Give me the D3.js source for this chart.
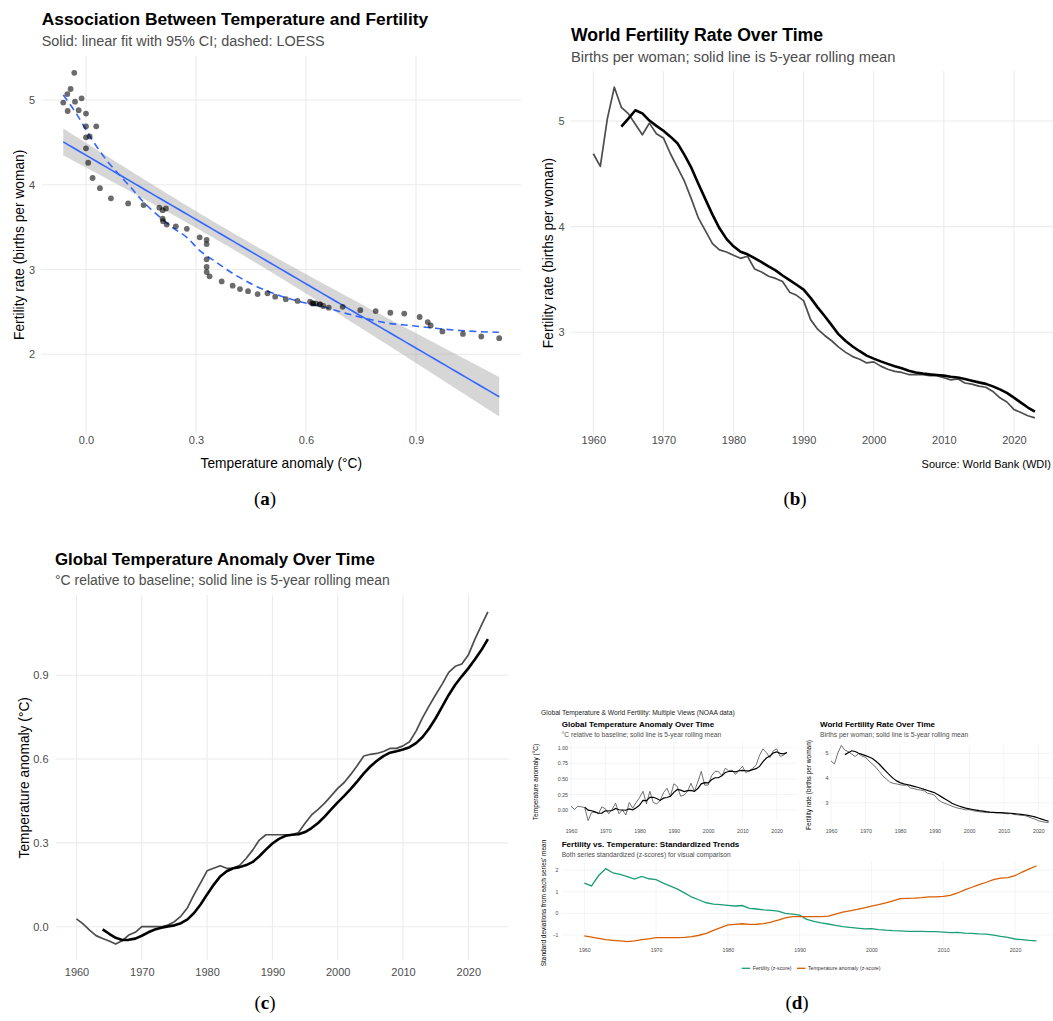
<!DOCTYPE html>
<html><head><meta charset="utf-8">
<script src="https://cdn.jsdelivr.net/npm/d3@7"></script>
<style>
body{margin:0;background:#fff;}
svg{display:block;}
</style></head><body>
<svg id="c" width="1053" height="1021"></svg>
<script>
// ---------------- DATA ----------------
const years = [1960,1961,1962,1963,1964,1965,1966,1967,1968,1969,
  1970,1971,1972,1973,1974,1975,1976,1977,1978,1979,
  1980,1981,1982,1983,1984,1985,1986,1987,1988,1989,
  1990,1991,1992,1993,1994,1995,1996,1997,1998,1999,
  2000,2001,2002,2003,2004,2005,2006,2007,2008,2009,
  2010,2011,2012,2013,2014,2015,2016,2017,2018,2019,
  2020,2021,2022,2023];
// World fertility rate (births per woman)
const fertility = [4.69,4.57,5.02,5.32,5.13,5.07,4.97,4.87,4.98,4.88,
  4.84,4.69,4.56,4.43,4.26,4.08,3.96,3.84,3.78,3.76,
  3.73,3.70,3.72,3.60,3.57,3.53,3.51,3.48,3.38,3.35,
  3.30,3.12,3.03,2.97,2.92,2.86,2.81,2.77,2.745,2.71,
  2.72,2.68,2.65,2.63,2.62,2.60,2.60,2.60,2.59,2.59,
  2.57,2.55,2.56,2.52,2.51,2.49,2.48,2.44,2.38,2.34,
  2.27,2.24,2.21,2.19];
// Temperature anomaly (°C) used in panels a, c and the z-score view
const temperature = [0.028,0.010,-0.012,-0.032,-0.042,-0.051,-0.062,-0.050,-0.030,-0.020,
  0.000,0.000,0.000,0.000,0.006,0.018,0.038,0.068,0.115,0.157,
  0.200,0.209,0.218,0.209,0.210,0.220,0.245,0.275,0.310,0.329,
  0.329,0.329,0.329,0.329,0.337,0.370,0.400,0.420,0.442,0.468,
  0.495,0.516,0.545,0.577,0.611,0.617,0.620,0.627,0.638,0.638,
  0.647,0.662,0.700,0.748,0.790,0.830,0.868,0.910,0.932,0.940,
  0.972,1.028,1.078,1.127];
// NOAA annual anomaly shown in the small panel of (d)
const noaaAnomaly = [0.06,0.01,0.06,0.05,0.04,-0.17,-0.04,-0.03,-0.06,0.05,
  0.02,-0.06,0.01,0.11,-0.06,0.00,-0.08,0.12,0.03,0.12,
  0.20,0.30,0.10,0.30,0.12,0.10,0.15,0.28,0.35,0.22,
  0.42,0.38,0.22,0.24,0.30,0.43,0.30,0.45,0.62,0.40,
  0.40,0.55,0.62,0.62,0.55,0.67,0.63,0.64,0.57,0.64,
  0.70,0.60,0.63,0.67,0.72,0.88,0.98,0.92,0.84,0.95,
  0.98,0.86,0.88,0.93];
// LOESS curve: temperature, fertility
const loessTemp = [-0.062,-0.025,0.011,0.056,0.088,0.12,0.156,0.193,0.238,0.275,0.311,0.347,0.402,0.456,0.52,0.584,0.647,0.711,0.766,0.82,0.884,0.947,1.02,1.126];
const loessFert = [5.06,4.83,4.57,4.29,4.13,3.98,3.80,3.65,3.49,3.38,3.22,3.11,2.95,2.82,2.705,2.62,2.56,2.48,2.42,2.37,2.34,2.31,2.28,2.26];

// tick values
const tempTicksA = [0, 0.3, 0.6, 0.9];
const fertTicks = [2, 3, 4, 5];
const fertTicksB = [3, 4, 5];
const yearTicks = [1960, 1970, 1980, 1990, 2000, 2010, 2020];
const tempTicksC = [0, 0.3, 0.6, 0.9];
const tempTicksMini = [0, 0.25, 0.5, 0.75, 1.0];
const zTicks = [-1, 0, 1, 2];

// ---------------- HELPERS ----------------
const FONT = '"Liberation Sans", Arial, Helvetica, sans-serif';
const GRID = '#EBEBEB', TICK = '#4D4D4D', SUB = '#4D4D4D';
const svg = d3.select('#c').attr('font-family', FONT);

function rolling(v, k) { return v.map((d, i) => i < k - 1 ? null : d3.mean(v.slice(i - k + 1, i + 1))); }
function zscore(v) { const m = d3.mean(v), s = d3.deviation(v); return v.map(d => (d - m) / s); }

function grid(g, x, y, xt, yt, b, w) {
  g.append('g').selectAll('line').data(yt).join('line')
    .attr('x1', b.x0).attr('x2', b.x1).attr('y1', d => y(d)).attr('y2', d => y(d))
    .attr('stroke', GRID).attr('stroke-width', w);
  g.append('g').selectAll('line').data(xt).join('line')
    .attr('y1', b.y0).attr('y2', b.y1).attr('x1', d => x(d)).attr('x2', d => x(d))
    .attr('stroke', GRID).attr('stroke-width', w);
}
function axes(g, x, y, xt, yt, o) {
  const ax = g.append('g').attr('transform', `translate(0,${o.xTop})`)
    .call(d3.axisBottom(x).tickValues(xt).tickSize(0).tickPadding(0).tickFormat(o.fx));
  ax.attr('font-size', o.fs).attr('font-family', FONT);
  ax.select('.domain').remove();
  ax.selectAll('text').attr('fill', TICK);
  const ay = g.append('g').attr('transform', `translate(${o.yRight},0)`)
    .call(d3.axisLeft(y).tickValues(yt).tickSize(0).tickPadding(0).tickFormat(o.fy));
  ay.attr('font-size', o.fs).attr('font-family', FONT);
  ay.select('.domain').remove();
  ay.selectAll('text').attr('fill', TICK);
}
function fitText(sel, w) {
  const l = sel.node().getComputedTextLength();
  const fs = parseFloat(sel.attr('font-size'));
  sel.attr('font-size', fs * w / l);
}
function title(g, txt, x, y, fs, w, bold, color) {
  const t = g.append('text').attr('x', x).attr('y', y).attr('font-size', fs)
    .attr('font-weight', bold ? 'bold' : 'normal').attr('fill', color || '#000').text(txt);
  if (w) fitText(t, w);
  return t;
}
function yTitle(g, txt, cx, cy, fs) {
  g.append('text').attr('transform', `translate(${cx},${cy}) rotate(-90)`)
    .attr('text-anchor', 'middle').attr('dy', '0.35em').attr('font-size', fs).attr('fill', '#000').text(txt);
}
function xTitle(g, txt, cx, y, fs) {
  g.append('text').attr('x', cx).attr('y', y).attr('text-anchor', 'middle').attr('font-size', fs).attr('fill', '#000').text(txt);
}
function caption(letter, cx, y) {
  const t = svg.append('text').attr('x', cx).attr('y', y).attr('text-anchor', 'middle')
    .attr('font-family', '"Liberation Serif", "DejaVu Serif", serif').attr('font-size', 19).attr('fill', '#000');
  t.append('tspan').text('(');
  t.append('tspan').attr('font-weight', 'bold').text(letter);
  t.append('tspan').text(')');
}
const fmt1 = d3.format('.1f'), fmt2 = d3.format('.2f'), fmtInt = d3.format('d');

// ---------------- PANEL A ----------------
(function () {
  const g = svg.append('g');
  const b = { x0: 41.6, x1: 521, y0: 56, y1: 433.7 };
  const x = d3.scaleLinear().domain([0, 0.9]).range([86, 416]);
  const y = d3.scaleLinear().domain([2, 5]).range([354.3, 100]);
  grid(g, x, y, tempTicksA, fertTicks, b, 1.1);

  // linear fit with 95% CI
  const n = temperature.length;
  const mx = d3.mean(temperature), my = d3.mean(fertility);
  let sxx = 0, sxy = 0;
  for (let i = 0; i < n; i++) { sxx += (temperature[i] - mx) ** 2; sxy += (temperature[i] - mx) * (fertility[i] - my); }
  const slope = sxy / sxx, icpt = my - slope * mx;
  let sse = 0;
  for (let i = 0; i < n; i++) sse += (fertility[i] - (icpt + slope * temperature[i])) ** 2;
  const s = Math.sqrt(sse / (n - 2)), tq = 1.999;
  const [xmin, xmax] = d3.extent(temperature);
  const xs = d3.range(0, 81).map(i => xmin + i * (xmax - xmin) / 80);
  const fitPts = xs.map(v => {
    const f = icpt + slope * v;
    const se = s * Math.sqrt(1 / n + (v - mx) ** 2 / sxx);
    return { x: v, f, lo: f - tq * se, hi: f + tq * se };
  });
  g.append('path').datum(fitPts)
    .attr('d', d3.area().x(d => x(d.x)).y0(d => y(d.lo)).y1(d => y(d.hi)))
    .attr('fill', '#999999').attr('fill-opacity', 0.4);
  g.append('path').datum(fitPts)
    .attr('d', d3.line().x(d => x(d.x)).y(d => y(d.f)))
    .attr('fill', 'none').attr('stroke', '#3366FF').attr('stroke-width', 1.6);
  // LOESS
  g.append('path').datum(loessTemp.map((t, i) => [t, loessFert[i]]))
    .attr('d', d3.line().x(d => x(d[0])).y(d => y(d[1])).curve(d3.curveMonotoneX))
    .attr('fill', 'none').attr('stroke', '#3366FF').attr('stroke-width', 1.6).attr('stroke-dasharray', '7,4.5');
  // points
  g.append('g').selectAll('circle').data(years).join('circle')
    .attr('cx', (d, i) => x(temperature[i])).attr('cy', (d, i) => y(fertility[i]))
    .attr('r', 2.9).attr('fill', '#000').attr('fill-opacity', 0.58);

  axes(g, x, y, tempTicksA, fertTicks, { xTop: 436, yRight: 35, fs: 11, fx: fmt1, fy: fmtInt });
  title(g, 'Association Between Temperature and Fertility', 41.7, 25, 16.5, 386.6, true);
  title(g, 'Solid: linear fit with 95% CI; dashed: LOESS', 41.7, 46, 13.75, 283.3, false, SUB);
  xTitle(g, 'Temperature anomaly (°C)', (b.x0 + b.x1) / 2, 468, 13.75);
  yTitle(g, 'Fertility rate (births per woman)', 18.8, (b.y0 + b.y1) / 2, 13.75);
})();

// ---------------- PANEL B ----------------
(function () {
  const g = svg.append('g');
  const b = { x0: 571, x1: 1057, y0: 71, y1: 435 };
  const x = d3.scaleLinear().domain([1960, 2020]).range([593.3, 1013.9]);
  const y = d3.scaleLinear().domain([3, 5]).range([332.3, 121]);
  grid(g, x, y, yearTicks, fertTicksB, b, 1.1);
  const roll = rolling(fertility, 5);
  g.append('path').datum(years)
    .attr('d', d3.line().x(d => x(d)).y((d, i) => y(fertility[i])))
    .attr('fill', 'none').attr('stroke', '#4D4D4D').attr('stroke-width', 1.7).attr('stroke-linejoin', 'round');
  g.append('path').datum(years)
    .attr('d', d3.line().defined((d, i) => roll[i] != null).x(d => x(d)).y((d, i) => y(roll[i])))
    .attr('fill', 'none').attr('stroke', '#000').attr('stroke-width', 2.6).attr('stroke-linejoin', 'round');
  axes(g, x, y, yearTicks, fertTicksB, { xTop: 436, yRight: 564.5, fs: 11, fx: fmtInt, fy: fmtInt });
  title(g, 'World Fertility Rate Over Time', 571, 40.7, 16.5, 252.3, true);
  title(g, 'Births per woman; solid line is 5-year rolling mean', 571, 61.7, 13.75, 324.7, false, SUB);
  yTitle(g, 'Fertility rate (births per woman)', 548, (b.y0 + b.y1) / 2, 13.75);
  g.append('text').attr('x', 1051).attr('y', 468).attr('text-anchor', 'end').attr('font-size', 11).attr('fill', '#000')
    .text('Source: World Bank (WDI)');
})();

// ---------------- PANEL C ----------------
(function () {
  const g = svg.append('g');
  const b = { x0: 56, x1: 508.5, y0: 595, y1: 960.6 };
  const x = d3.scaleLinear().domain([1960, 2020]).range([76.5, 468.3]);
  const y = d3.scaleLinear().domain([0, 0.9]).range([926.7, 675.2]);
  grid(g, x, y, yearTicks, tempTicksC, b, 1.1);
  const roll = rolling(temperature, 5);
  g.append('path').datum(years)
    .attr('d', d3.line().x(d => x(d)).y((d, i) => y(temperature[i])))
    .attr('fill', 'none').attr('stroke', '#4D4D4D').attr('stroke-width', 1.7).attr('stroke-linejoin', 'round');
  g.append('path').datum(years)
    .attr('d', d3.line().defined((d, i) => roll[i] != null).x(d => x(d)).y((d, i) => y(roll[i])))
    .attr('fill', 'none').attr('stroke', '#000').attr('stroke-width', 2.6).attr('stroke-linejoin', 'round');
  axes(g, x, y, yearTicks, tempTicksC, { xTop: 968, yRight: 48.5, fs: 11, fx: fmtInt, fy: fmt1 });
  title(g, 'Global Temperature Anomaly Over Time', 55, 565, 16.5, 320, true);
  title(g, '°C relative to baseline; solid line is 5-year rolling mean', 55, 585, 13.75, 335, false, SUB);
  yTitle(g, 'Temperature anomaly (°C)', 24, (b.y0 + b.y1) / 2, 13.75);
})();

// ---------------- PANEL D (composite) ----------------
(function () {
  const g = svg.append('g');
  const fsT = 5.25, fsA = 6.5, lw = 0.55;
  title(g, 'Global Temperature & World Fertility: Multiple Views (NOAA data)', 541, 714.5, 6.3, 194, false, '#222');

  // mini 1: NOAA temperature
  {
    const b = { x0: 560.2, x1: 797.9, y0: 742, y1: 820 };
    const x = d3.scaleLinear().domain([1960, 2020]).range([571, 776.7]);
    const y = d3.scaleLinear().domain([0, 1]).range([810, 747.7]);
    grid(g, x, y, yearTicks, tempTicksMini, b, lw);
    const roll = rolling(noaaAnomaly, 5);
    g.append('path').datum(years)
      .attr('d', d3.line().x(d => x(d)).y((d, i) => y(noaaAnomaly[i])))
      .attr('fill', 'none').attr('stroke', '#4D4D4D').attr('stroke-width', 0.8);
    g.append('path').datum(years)
      .attr('d', d3.line().defined((d, i) => roll[i] != null).x(d => x(d)).y((d, i) => y(roll[i])))
      .attr('fill', 'none').attr('stroke', '#000').attr('stroke-width', 1.2);
    axes(g, x, y, yearTicks, tempTicksMini, { xTop: 829.2, yRight: 568, fs: fsT, fx: fmtInt, fy: fmt2 });
    title(g, 'Global Temperature Anomaly Over Time', 561.7, 727, 7.9, 152.6, true);
    title(g, '°C relative to baseline; solid line is 5-year rolling mean', 561.7, 736.5, 6.5, 160, false, SUB);
    yTitle(g, 'Temperature anomaly (°C)', 535.3, 782, fsA);
  }
  // mini 2: fertility
  {
    const b = { x0: 820, x1: 1060, y0: 745, y1: 826 };
    const x = d3.scaleLinear().domain([1960, 2020]).range([831, 1038.3]);
    const y = d3.scaleLinear().domain([3, 5]).range([802.7, 753.3]);
    grid(g, x, y, yearTicks, fertTicksB, b, lw);
    const roll = rolling(fertility, 5);
    g.append('path').datum(years)
      .attr('d', d3.line().x(d => x(d)).y((d, i) => y(fertility[i])))
      .attr('fill', 'none').attr('stroke', '#4D4D4D').attr('stroke-width', 0.8);
    g.append('path').datum(years)
      .attr('d', d3.line().defined((d, i) => roll[i] != null).x(d => x(d)).y((d, i) => y(roll[i])))
      .attr('fill', 'none').attr('stroke', '#000').attr('stroke-width', 1.2);
    axes(g, x, y, yearTicks, fertTicksB, { xTop: 829.2, yRight: 828.3, fs: fsT, fx: fmtInt, fy: fmtInt });
    title(g, 'World Fertility Rate Over Time', 820, 727, 7.9, 115, true);
    title(g, 'Births per woman; solid line is 5-year rolling mean', 820, 736.5, 6.5, 148.3, false, SUB);
    yTitle(g, 'Fertility rate (births per woman)', 809, 785, fsA);
  }
  // bottom: standardized trends
  {
    const b = { x0: 562, x1: 1060, y0: 861, y1: 945.4 };
    const x = d3.scaleLinear().domain([1960, 2020]).range([584.3, 1015]);
    const y = d3.scaleLinear().domain([0, 2]).range([913.3, 870]);
    grid(g, x, y, yearTicks, zTicks, b, lw);
    const zf = zscore(fertility), zt = zscore(temperature);
    g.append('path').datum(years)
      .attr('d', d3.line().x(d => x(d)).y((d, i) => y(zf[i])))
      .attr('fill', 'none').attr('stroke', '#1B9E77').attr('stroke-width', 1.3);
    g.append('path').datum(years)
      .attr('d', d3.line().x(d => x(d)).y((d, i) => y(zt[i])))
      .attr('fill', 'none').attr('stroke', '#D95F02').attr('stroke-width', 1.3);
    axes(g, x, y, yearTicks, zTicks, { xTop: 948.2, yRight: 558.5, fs: fsT, fx: fmtInt, fy: d3.format('d') });
    title(g, 'Fertility vs. Temperature: Standardized Trends', 561.7, 847, 7.9, 177.6, true);
    title(g, 'Both series standardized (z-scores) for visual comparison', 561.7, 856.5, 6.5, 169.3, false, SUB);
    yTitle(g, "Standard deviations from each series' mean", 543.3, 903, fsA);
    // legend
    const legend = [
      { label: 'Fertility (z-score)', color: '#1B9E77', x: 741.7, w: 39 },
      { label: 'Temperature anomaly (z-score)', color: '#D95F02', x: 797, w: 72.6 }
    ];
    legend.forEach(l => {
      g.append('line').attr('x1', l.x).attr('x2', l.x + 8.5).attr('y1', 968.3).attr('y2', 968.3)
        .attr('stroke', l.color).attr('stroke-width', 1.3);
      const t = g.append('text').attr('x', l.x + 11).attr('y', 968.3).attr('dy', '0.35em')
        .attr('font-size', fsT).attr('fill', '#333').text(l.label);
      fitText(t, l.w);
    });
  }
})();

// ---------------- CAPTIONS ----------------
caption('a', 265, 505);
caption('b', 795, 505);
caption('c', 265, 1009);
caption('d', 797, 1009);
</script>
</body></html>
